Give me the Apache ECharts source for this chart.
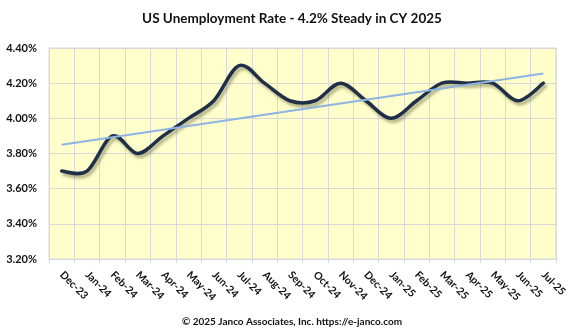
<!DOCTYPE html>
<html>
<head>
<meta charset="utf-8">
<script src="https://cdn.jsdelivr.net/npm/echarts@6/dist/echarts.min.js"></script>
<style>html,body{margin:0;padding:0;background:#fff;}#c{width:584px;height:333px;}</style>
</head>
<body>
<div id="c"></div>
<script>
const months = ['Dec-23','Jan-24','Feb-24','Mar-24','Apr-24','May-24','Jun-24','Jul-24','Aug-24','Sep-24','Oct-24','Nov-24','Dec-24','Jan-25','Feb-25','Mar-25','Apr-25','May-25','Jun-25','Jul-25'];
const rate = [3.7,3.7,3.9,3.8,3.9,4.0,4.1,4.3,4.2,4.1,4.1,4.2,4.1,4.0,4.1,4.2,4.2,4.2,4.1,4.2];
const trendStart = 3.85;
const trendEnd = 4.255;
const yTicks = [3.2,3.4,3.6,3.8,4.0,4.2,4.4];

const trend = months.map((m,i)=> i===0 ? trendStart : (i===months.length-1 ? trendEnd : null));

const FONT = 'Lato, "Open Sans", sans-serif';

// Excel-like smoothed line (Catmull-Rom style Bezier) drawn through the chart's own scales
function renderSmooth(params, api){
  if (params.dataIndex !== 0) return;
  const pts = rate.map((v,i)=>api.coord([i, v]));
  const n = pts.length;
  let d = 'M' + pts[0][0] + ',' + pts[0][1];
  for (let i = 0; i < n - 1; i++){
    const p0 = pts[i-1] || pts[i], p1 = pts[i], p2 = pts[i+1], p3 = pts[i+2] || pts[i+1];
    const t = 1/6;
    const c1x = p1[0] + (p2[0]-p0[0])*t, c1y = p1[1] + (p2[1]-p0[1])*t;
    const c2x = p2[0] - (p3[0]-p1[0])*t, c2y = p2[1] - (p3[1]-p1[1])*t;
    d += ' C' + c1x + ',' + c1y + ' ' + c2x + ',' + c2y + ' ' + p2[0] + ',' + p2[1];
  }
  return {
    type:'path',
    shape:{pathData:d},
    style:{fill:null, stroke:'#1f2f47', lineWidth:3.5, lineJoin:'round', lineCap:'round',
      shadowColor:'rgba(110,110,70,0.55)', shadowBlur:3, shadowOffsetX:2, shadowOffsetY:3}
  };
}

const chart = echarts.init(document.getElementById('c'), null, {renderer:'canvas'});
chart.setOption({
  animation:false,
  backgroundColor:'#ffffff',
  title:[
    {text:'US Unemployment Rate - 4.2% Steady in CY 2025', left:'center', top:7,
     textStyle:{fontFamily:FONT, fontSize:13.5, fontWeight:'bold', color:'#111111'}},
    {text:'\u00a9 2025 Janco Associates, Inc. https://e-janco.com', left:'center', top:312,
     textStyle:{fontFamily:FONT, fontSize:10, fontWeight:'bold', color:'#111111'}}
  ],
  grid:{left:49, right:28, top:48, bottom:74, show:true, backgroundColor:'#ffffcc', borderColor:'#d9d9d9', borderWidth:1},
  xAxis:{
    type:'category', data:months, boundaryGap:true,
    axisLine:{lineStyle:{color:'#d9d9d9', width:1}},
    axisTick:{show:true, length:4, lineStyle:{color:'#d9d9d9'}},
    splitLine:{show:true, lineStyle:{color:'#d9d9d9', width:1}},
    axisLabel:{rotate:-45, interval:0, margin:14, fontFamily:FONT, fontSize:10.5, fontWeight:'bold', color:'#111111'}
  },
  yAxis:{
    type:'value', min:yTicks[0], max:yTicks[yTicks.length-1], interval:0.2,
    axisLine:{show:true, lineStyle:{color:'#d9d9d9'}},
    axisTick:{show:false},
    splitLine:{show:true, lineStyle:{color:'#d9d9d9', width:1}},
    axisLabel:{margin:12, fontFamily:FONT, fontSize:11, fontWeight:'bold', color:'#111111',
      formatter:v=>v.toFixed(2)+'%'}
  },
  series:[
    {type:'custom', data:rate.map((v,i)=>[i,v]), encode:{x:0, y:1}, renderItem:renderSmooth, clip:false, z:3},
    {type:'line', data:trend, connectNulls:true, symbol:'none', z:4,
     lineStyle:{color:'#8eb4e3', width:2}}
  ]
});
</script>
</body>
</html>
